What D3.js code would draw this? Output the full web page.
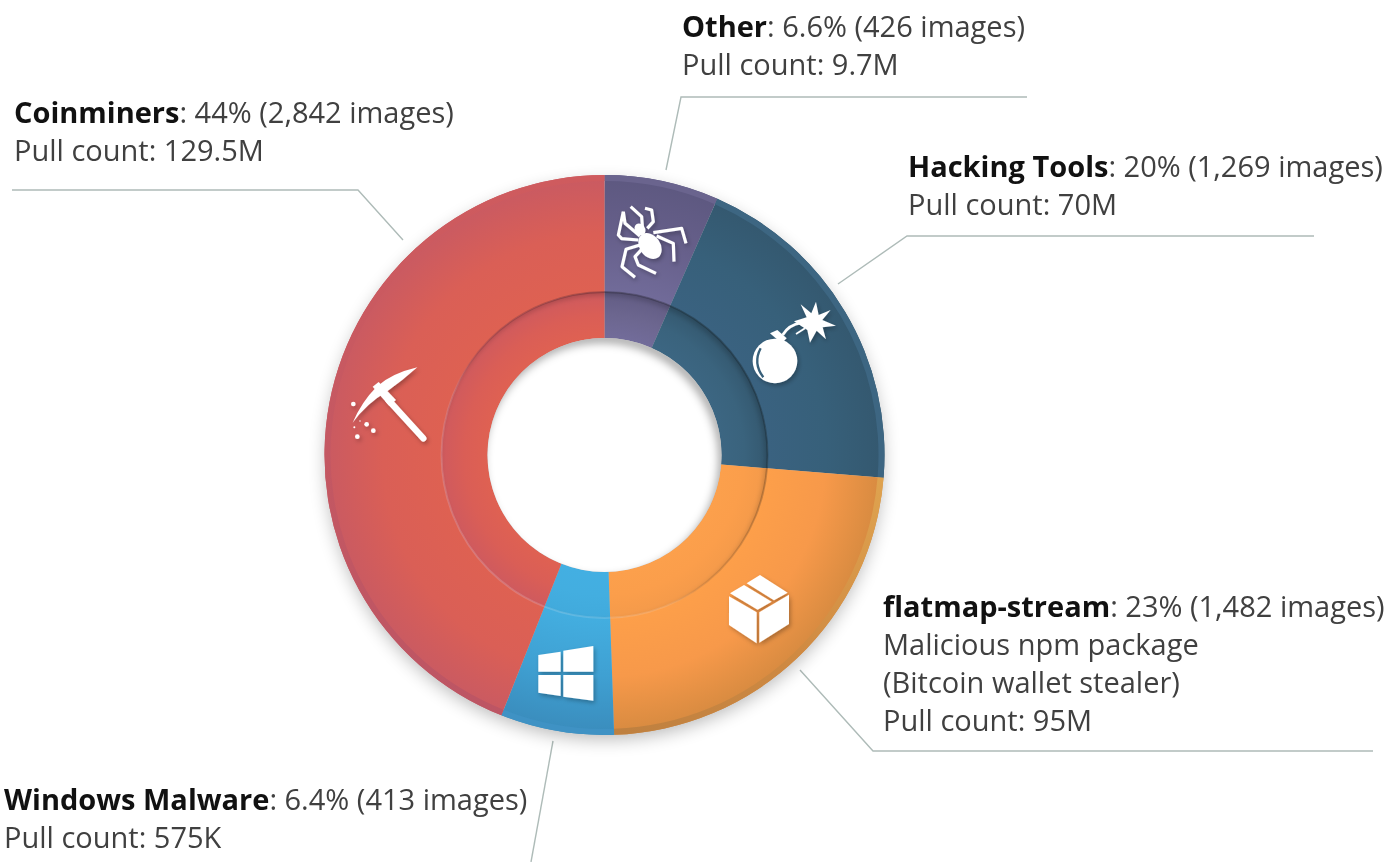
<!DOCTYPE html>
<html><head><meta charset="utf-8">
<style>html,body{margin:0;background:#fff}svg{display:block;filter:blur(.5px)}text{font-family:"Open Sans",sans-serif;font-size:29px;fill:#404040}.b{font-weight:700;fill:#111}</style>
</head><body><svg id="c" width="1398" height="862"></svg>
<script src="https://cdn.jsdelivr.net/npm/d3@7"></script>
<script>
const categories=["Other","Hacking Tools","flatmap-stream","Windows Malware","Coinminers"];
const shares=[6.6,19.7,23.15,6.55,44];
const shareLabels=["6.6%","20%","23%","6.4%","44%"];
const imageCounts=["426","1,269","1,482","413","2,842"];
const pullCounts=["9.7M","70M","95M","575K","129.5M"];
const notes=[[],[],["Malicious npm package","(Bitcoin wallet stealer)"],[],[]];
const labelAnchors=[[682,37],[908,177],[883,617],[4,810],[14,123]];
const leaders=[[[1027,97],[681,97],[666,170]],[[1314,236],[907,236],[838,284]],[[1373,751],[873,751],[800,670]],[[553,741],[531,862]],[[12,190],[358,190],[403,240]]];
const outerStops=[["#716b99","#665f8a","#5d5880"],["#3a6280","#37607a","#34586f"],["#fd9f4a","#f7994a","#d68a40"],["#43aee0","#3fa0d2","#3a8cbc"],["#de6152","#da5f56","#c95a62"]];
const innerStops=[["#726c9a","#6c668f","#625c84"],["#3c6682","#3a637d","#34586f"],["#fca04c","#fb9e4b","#f49a4a"],["#43afe2","#43aee0","#41aadc"],["#df6152","#da5e56","#cf5a5e"]];
const rimColors=["#6a648e","#3d6682","#d99a4c","#3f92c4","url(#rimRed)"];
const R=280,Rmid=163,Rhole=117,rim=6,cx=604.5,cy=455;
const svg=d3.select("#c"),defs=svg.append("defs");
const blur=(id,s)=>defs.append("filter").attr("id",id).attr("x","-30%").attr("y","-30%").attr("width","160%").attr("height","160%").append("feGaussianBlur").attr("stdDeviation",s);
blur("s14",9);blur("s5",5);blur("s2",2.5);
const radial=(id,r0,r1,st)=>{const g=defs.append("radialGradient").attr("id",id).attr("gradientUnits","userSpaceOnUse").attr("cx",0).attr("cy",0).attr("fx",0).attr("fy",0).attr("r",r1);
 g.append("stop").attr("offset",r0/r1).attr("stop-color",st[0]);g.append("stop").attr("offset",(r0/r1+1)/2).attr("stop-color",st[1]);g.append("stop").attr("offset",1).attr("stop-color",st[2]);};
categories.forEach((c,i)=>{radial("o"+i,Rmid,R,outerStops[i]);radial("n"+i,Rhole,Rmid,innerStops[i]);});
const lin=(id,x1,y1,x2,y2,stops)=>{const l=defs.append("linearGradient").attr("id",id).attr("gradientUnits","userSpaceOnUse").attr("x1",x1).attr("y1",y1).attr("x2",x2).attr("y2",y2);
 stops.forEach(s=>l.append("stop").attr("offset",s[0]).attr("stop-color",s[1]).attr("stop-opacity",s[2]===undefined?1:s[2]));};
lin("rimOrange",R,0,0,R,[[0,"#e0a550"],[.5,"#d08a42"],[1,"#bd7f3f"]]);
lin("rimRed",-100,-R,-100,R,[[0,"#cf5b5e"],[.45,"#c55862"],[1,"#bc5564"]]);
lin("edge",120,-120,-120,120,[[.2,"#000",.2],[.55,"#000",.08],[.68,"#fff",.12],[1,"#fff",.17]]);
defs.append("clipPath").attr("id","inner").append("circle").attr("r",Rmid);
defs.append("clipPath").attr("id","hole").append("circle").attr("r",Rhole);
const lineGen=d3.line();
svg.append("g").selectAll("path").data(leaders).join("path").attr("d",d=>lineGen(d)).attr("fill","none").attr("stroke","#aebbb8").attr("stroke-width",1.4);
const g=svg.append("g").attr("transform",`translate(${cx},${cy})`);
const pie=d3.pie().sort(null).value(d=>d)(shares);
g.append("circle").attr("r",R-2).attr("cy",6).attr("fill","#000").attr("opacity",.28).attr("filter","url(#s14)");
const arc=(a,b)=>d3.arc().innerRadius(a).outerRadius(b);
g.append("g").selectAll("path").data(pie).join("path").attr("d",arc(Rmid,R)).attr("fill",(d,i)=>`url(#o${i})`);
g.append("g").selectAll("path").data(pie).join("path").attr("d",arc(R-rim,R)).attr("fill",(d,i)=>i===2?"url(#rimOrange)":rimColors[i]);
g.append("g").selectAll("path").data(pie).join("path").attr("d",arc(Rhole,Rmid+.5)).attr("fill",(d,i)=>`url(#n${i})`);
const recess=g.append("g").attr("clip-path","url(#inner)");
recess.append("circle").attr("r",Rmid+4).attr("cx",-2).attr("cy",3).attr("fill","none").attr("stroke","#000").attr("stroke-opacity",.17).attr("stroke-width",9).attr("filter","url(#s2)");
g.append("circle").attr("r",Rmid).attr("fill","none").attr("stroke","url(#edge)").attr("stroke-width",2);
g.append("circle").attr("r",Rhole).attr("fill","#fff");
const holeG=g.append("g").attr("clip-path","url(#hole)");
holeG.append("circle").attr("r",Rhole+5).attr("cx",-3).attr("cy",5).attr("fill","none").attr("stroke","#000").attr("stroke-opacity",.42).attr("stroke-width",8).attr("filter","url(#s5)");

const icons=svg.append("g");
const shadow=defs.append("filter").attr("id","ds").attr("x","-30%").attr("y","-30%").attr("width","170%").attr("height","170%");
shadow.append("feDropShadow").attr("dx",5).attr("dy",7).attr("stdDeviation",6).attr("flood-color","#000").attr("flood-opacity",.28);
// spider
const sp=icons.append("g").attr("transform","translate(590,160) scale(.3333)").attr("filter","url(#ds)");
const legs=[[[150,228],[105,190],[100,155]],[[158,212],[155,170],[122,140]],[[172,205],[190,185],[185,150],[165,145]],[[190,218],[275,205],[288,250]],[[200,228],[250,250],[252,305]],[[150,255],[108,268],[96,320],[135,352]],[[158,265],[135,290],[145,315],[198,340]],[[145,240],[95,236],[85,225],[100,155]]];
sp.selectAll("path").data(legs).join("path").attr("d",d=>lineGen(d)).attr("fill","none").attr("stroke","#fff").attr("stroke-width",9.5).attr("stroke-linejoin","round");
sp.append("ellipse").attr("cx",180).attr("cy",258).attr("rx",31).attr("ry",42).attr("transform","rotate(-35 180 258)").attr("fill","#fff");
sp.append("ellipse").attr("cx",150).attr("cy",208).attr("rx",15).attr("ry",19).attr("transform","rotate(-35 150 208)").attr("fill","#fff");
// bomb
const bo=icons.append("g").attr("transform","translate(590,160) scale(.3333)").attr("filter","url(#ds)");
bo.append("circle").attr("cx",555).attr("cy",603).attr("r",67).attr("fill","#fff");
bo.append("path").attr("d","M512 565Q488 610 520 652").attr("fill","none").attr("stroke","#38607a").attr("stroke-width",7);
bo.append("path").attr("d","M540 520L562 510L590 535L575 550Z").attr("fill","#fff");
bo.append("path").attr("d","M578 525Q595 495 635 488").attr("fill","none").attr("stroke","#fff").attr("stroke-width",8);
bo.append("path").attr("d","M618 522L645 505").attr("fill","none").attr("stroke","#fff").attr("stroke-width",5);
bo.append("path").attr("d","M678 425L686 465L722 450L697 480L738 497L698 502L708 538L680 512L660 548L652 510L612 484L650 472L632 433L664 460Z").attr("fill","#fff");
// box
const bx=icons.append("g").attr("transform","translate(600,460) scale(.3333)").attr("filter","url(#ds)").attr("fill","#fff");
["M387 409L470 457V550L387 495Z","M478 457L567 404V492L478 548Z","M390 400L432 375L515 425L473 449Z","M440 370L480 345L563 398L522 421Z"].forEach(d=>bx.append("path").attr("d",d));
// windows
const wi=icons.append("g").attr("transform","translate(320,340) scale(.3333)").attr("filter","url(#ds)").attr("fill","#fff");
["M655 945L722 935V995H655Z","M730 932L820 918V995H730Z","M655 1005H722V1068L655 1058Z","M730 1005H820V1082L730 1070Z"].forEach(d=>wi.append("path").attr("d",d));
// pick
const pk=icons.append("g").attr("transform","translate(320,340) scale(.3333)").attr("filter","url(#ds)").attr("fill","#fff");
pk.append("path").attr("d","M292 82Q215 100 170 140Q125 185 98 248Q140 190 200 155Q250 120 292 82Z");
pk.append("path").attr("d","M158 140L176 126L228 180L208 198Z");
pk.append("path").attr("d","M205 180L310 295").attr("stroke","#fff").attr("stroke-width",19).attr("stroke-linecap","round");
pk.selectAll("circle").data([[100,192,7],[112,290,7],[140,253,7],[160,272,7],[120,243,2],[103,262,3]]).join("circle").attr("cx",d=>d[0]).attr("cy",d=>d[1]).attr("r",d=>d[2]);

const lh=38;
const labels=svg.append("g").selectAll("g").data(categories).join("g").attr("transform",(d,i)=>`translate(${labelAnchors[i][0]},${labelAnchors[i][1]})`);
labels.each(function(name,i){
 const el=d3.select(this);
 const t=el.append("text");
 t.append("tspan").attr("class","b").text(name);
 t.append("tspan").text(`: ${shareLabels[i]} (${imageCounts[i]} images)`);
 const rest=[...notes[i],`Pull count: ${pullCounts[i]}`];
 rest.forEach((s,k)=>el.append("text").attr("y",lh*(k+1)).text(s));
});
</script></body></html>
